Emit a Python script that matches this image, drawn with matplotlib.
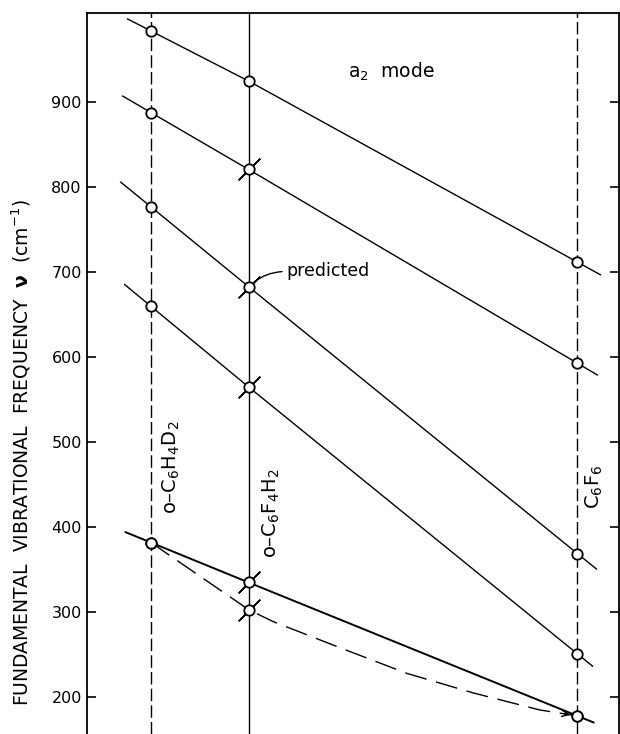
import matplotlib
matplotlib.use("Agg")
from matplotlib import pyplot as plt

plt.rcParams["font.family"] = ["DejaVu Sans"]
plt.rcParams["mathtext.fontset"] = "dejavusans"

# Molecules (horizontal positions, arbitrary units) and their labels
mol_x = [0.0, 1.0, 4.365]
mol_labels = ["o\u2013C$_6$H$_4$D$_2$", "o\u2013C$_6$F$_4$H$_2$", "C$_6$F$_6$"]
mol_label_y = [471, 416, 447]
mol_label_dx = [14.5, 16.5, 12.5]
vline_styles = ["dashed", "solid", "dashed"]

# a2 mode frequencies (cm-1) at o-C6H4D2, o-C6F4H2, C6F6
series = [
    [984, 925, 712],
    [888, 821, 593],
    [777, 683, 369],
    [660, 565, 251],
    [382, 335, 178],
]
series_lw = [1.0, 1.0, 1.0, 1.0, 1.4]
series_crossed = [False, True, True, True, True]
line_start_x = [-0.24, -0.29, -0.31, -0.27, -0.26]
line_end_x = [4.60, 4.57, 4.56, 4.52, 4.53]

# dashed curve (lowest mode, alternative correlation)
curve_x = [0.0, 1.0, 1.25, 1.94, 2.62, 3.30, 3.98, 4.365]
curve_v = [382, 303, 289, 258, 228, 205, 185, 178]
curve_marked = [0, 1, 7]

yticks = [200, 300, 400, 500, 600, 700, 800, 900]


def extend(xs, ys, x0, x1):
    s0 = (ys[1] - ys[0]) / (xs[1] - xs[0])
    s1 = (ys[-1] - ys[-2]) / (xs[-1] - xs[-2])
    y0 = ys[0] + s0 * (x0 - xs[0])
    y1 = ys[-1] + s1 * (x1 - xs[-1])
    return [x0] + list(xs) + [x1], [y0] + list(ys) + [y1]


def main():
    fig = plt.figure(figsize=(6.2, 7.34), dpi=100)
    ax = fig.add_axes([0.1398, 0.0, 0.8585, 0.9819])

    # vertical molecule lines
    for x, ls in zip(mol_x, vline_styles):
        if ls == "dashed":
            ax.axvline(x, color="black", lw=1.0, ls=(0, (9, 3)), zorder=1)
        else:
            ax.axvline(x, color="black", lw=1.0, zorder=1)

    for lab, x, y, dx in zip(mol_labels, mol_x, mol_label_y, mol_label_dx):
        ax.annotate(lab, xy=(x, y), xytext=(dx, 0), textcoords="offset points",
                    rotation=90, ha="center", va="center", fontsize=14)

    # correlation lines
    for ys, lw, x0, x1 in zip(series, series_lw, line_start_x, line_end_x):
        lx, ly = extend(mol_x, ys, x0, x1)
        ax.plot(lx, ly, color="black", lw=lw, zorder=2)

    ax.plot(curve_x, curve_v, color="black", lw=1.0, ls=(0, (16, 7)), zorder=2)
    # small arrow head at the end of the dashed curve
    tail = (curve_x[-1] + 0.35 * (curve_x[-2] - curve_x[-1]),
            curve_v[-1] + 0.35 * (curve_v[-2] - curve_v[-1]))
    ax.annotate("", xy=(curve_x[-1], curve_v[-1]), xytext=tail,
                arrowprops=dict(arrowstyle="->,head_length=0.5,head_width=0.22",
                                lw=1.0, color="black", shrinkA=0, shrinkB=5),
                zorder=3)

    # cross marks on the o-C6F4H2 points
    cx = []
    cy = []
    for ys, c in zip(series, series_crossed):
        if c:
            cx.append(mol_x[1])
            cy.append(ys[1])
    cx.append(curve_x[1])
    cy.append(curve_v[1])
    ax.plot(cx, cy, ls="none", marker=(2, 2, -45), ms=22, mew=1.0,
            color="black", zorder=3)

    # open circles
    px = []
    py = []
    for ys in series:
        px.extend(mol_x)
        py.extend(ys)
    for i in curve_marked:
        px.append(curve_x[i])
        py.append(curve_v[i])
    ax.plot(px, py, ls="none", marker="o", ms=7.5, mew=1.3,
            mfc="white", mec="black", zorder=4)

    ax.annotate("predicted", xy=(mol_x[1], series[2][1]), xytext=(27, 11),
                textcoords="offset points", ha="left", va="center", fontsize=12.5,
                arrowprops=dict(arrowstyle="-", lw=1.0, color="black",
                                connectionstyle="angle3,angleA=0,angleB=45",
                                relpos=(0, 0.5), shrinkA=1, shrinkB=5))

    ax.text(2.456, 936, r"a$_2$  mode", ha="center", va="center", fontsize=13.5)

    ax.set_xlim(-0.658, 4.790)
    ax.set_ylim(156.7, 1004.8)
    ax.set_xticks([])
    ax.set_yticks(yticks)
    ax.tick_params(axis="y", direction="in", length=6.5, width=1.2,
                   right=True, labelsize=11.5, pad=3.5)
    ax.spines["bottom"].set_visible(False)
    for s in ["left", "right", "top"]:
        ax.spines[s].set_linewidth(1.3)

    ax.set_ylabel(r"FUNDAMENTAL  VIBRATIONAL  FREQUENCY  $\mathbf{\nu}$  (cm$^{-1}$)",
                  fontsize=13.5)
    ax.yaxis.set_label_coords(-0.100, 0.39)

    fig.savefig("out.png", dpi=100)


if __name__ == "__main__":
    main()
